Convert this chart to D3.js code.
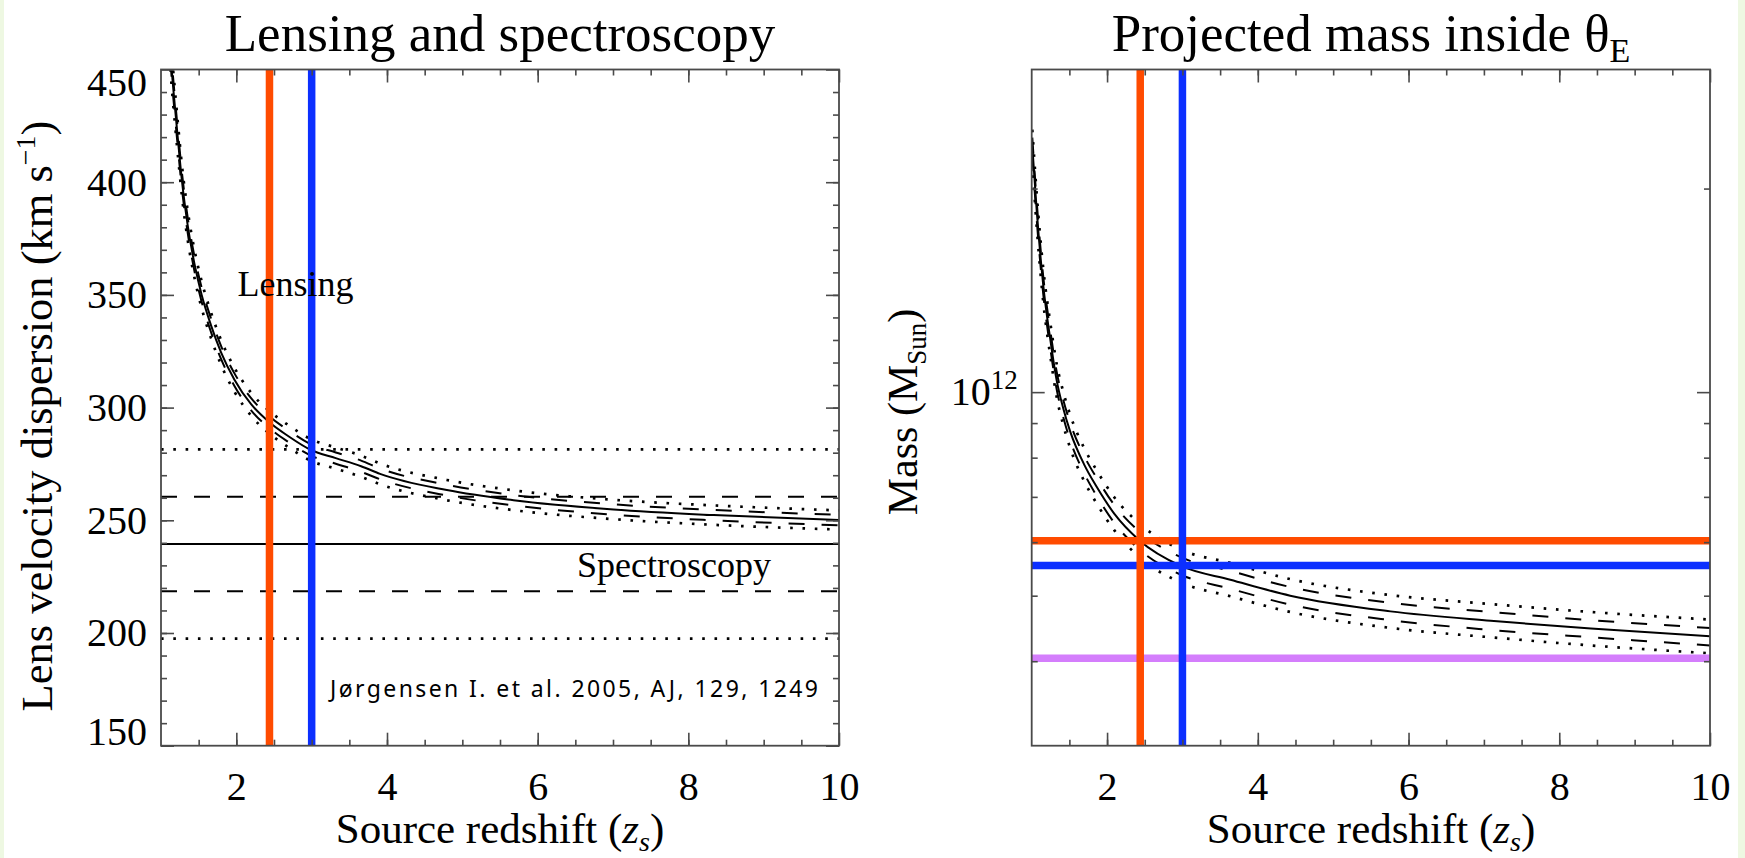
<!DOCTYPE html>
<html>
<head>
<meta charset="utf-8">
<script src="https://cdn.jsdelivr.net/npm/d3@7"></script>
<style>
  html, body { margin: 0; padding: 0; background: #eef8e2; }
  svg { display: block; }
</style>
</head>
<body>
<svg id="chart" width="1745" height="858"></svg>
<script>
// ---------- velocity-dispersion panel (km/s) ----------
const zSigma      = [1.125, 1.142, 1.186, 1.23, 1.28, 1.354, 1.443, 1.54, 1.664, 1.797, 1.973, 2.196, 2.438, 2.683, 2.99, 3.32, 3.656, 3.908, 4.794, 5.679, 7.007, 8.335, 10.0];
const sigmaLens   = [458, 450, 433, 417, 400, 381, 364, 350, 336.5, 324.5, 312.5, 301.5, 293.5, 287.5, 281.2, 277.6, 274.0, 270.6, 263.4, 258.9, 254.8, 252.3, 250.1];
const sigmaDashHi = [462.1, 454.1, 436.9, 420.8, 403.6, 384.4, 367.3, 353.2, 339.5, 327.4, 315.3, 304.2, 296.1, 290.1, 283.7, 280.1, 276.5, 273.0, 265.8, 261.2, 257.1, 254.6, 252.4];
const sigmaDashLo = [453.9, 446.0, 429.1, 413.2, 396.4, 377.6, 360.7, 346.9, 333.5, 321.6, 309.7, 298.8, 290.9, 284.9, 278.7, 275.1, 271.5, 268.2, 261.0, 256.6, 252.5, 250.0, 247.8];
const sigmaDotHi  = [465.8, 457.7, 440.4, 424.1, 406.8, 387.5, 370.2, 356.0, 342.2, 330.0, 317.8, 306.6, 298.5, 292.4, 286.0, 282.3, 278.7, 275.2, 267.9, 263.3, 259.1, 256.6, 254.4];
const sigmaDotLo  = [450.2, 442.4, 425.6, 409.9, 393.2, 374.5, 357.8, 344.1, 330.8, 319.0, 307.2, 296.4, 288.5, 282.6, 276.4, 272.9, 269.3, 266.0, 258.9, 254.5, 250.5, 248.0, 245.9];

// spectroscopic dispersion with 1- and 2-sigma levels
const specLevels = [281.5, 260.5, 239.5, 218.5, 197.5];
const specStyles = ["dot", "dash", "solid", "dash", "dot"];

// ---------- projected-mass panel (units of 1e11 M_sun) ----------
const zMass      = [1.008, 1.066, 1.153, 1.25, 1.332, 1.42, 1.51, 1.70, 1.86, 2.1, 2.43, 2.98, 3.636, 4.43, 5.76, 7.09, 8.42, 10.0];
const massLens   = [23.1, 18.6, 14.4, 11.9, 10.4, 9.45, 8.75, 7.8, 7.25, 6.6, 6.035, 5.534, 5.28, 5.0, 4.74, 4.59, 4.47, 4.354];
const massDashHi = [23.79, 19.16, 14.83, 12.26, 10.71, 9.73, 9.01, 8.03, 7.47, 6.80, 6.22, 5.70, 5.44, 5.15, 4.88, 4.73, 4.60, 4.48];
const massDashLo = [22.41, 18.04, 13.97, 11.54, 10.09, 9.17, 8.49, 7.57, 7.03, 6.40, 5.85, 5.37, 5.12, 4.85, 4.60, 4.45, 4.34, 4.22];
const massDotHi  = [24.44, 19.68, 15.24, 12.59, 11.00, 10.00, 9.26, 8.25, 7.67, 6.98, 6.39, 5.85, 5.59, 5.29, 5.01, 4.86, 4.73, 4.61];
const massDotLo  = [21.83, 17.58, 13.61, 11.25, 9.83, 8.93, 8.27, 7.37, 6.85, 6.24, 5.70, 5.23, 4.99, 4.73, 4.48, 4.34, 4.22, 4.11];

// marked source redshifts and the matching masses (last one: spectroscopic mass)
const zMarks      = [2.44, 3.0];
const massMarks   = [6.03, 5.54, 4.04];
const markColours = ["#ff4b00", "#0c2fff", "#d47efc"];

// ticks
const xTicks     = [2, 4, 6, 8, 10];
const xMinor     = d3.range(1.5, 10, 0.5);
const sigmaTicks = [150, 200, 250, 300, 350, 400, 450];
const sigmaMinor = d3.range(160, 450, 10);
const massTicks  = [10];
const massMinor  = [4, 5, 6, 7, 8, 9, 20];

const serif = '"Liberation Serif", "Times New Roman", Times, serif';
const ink = "#000";
const axisCol = "#4a4a4a";
const dashPat = "16,17";
const dotPat = "2.6,9.7";

const svg = d3.select("#chart");
svg.append("rect").attr("x", 4).attr("y", 0).attr("width", 1734).attr("height", 858).attr("fill", "#fff");

// scales
const xL = d3.scaleLinear().domain([1, 10]).range([161, 839]);
const yL = d3.scaleLinear().domain([150, 450]).range([745.7, 69.5]);
const xR = d3.scaleLinear().domain([1, 10]).range([1031.7, 1710]);
const yR = d3.scaleLog().domain([3, 30]).range([745.7, 69.5]);

function clip(id, x, y) {
  const [x0, x1] = x.range(), [yb, yt] = y.range();
  svg.append("clipPath").attr("id", id)
    .append("rect").attr("x", x0).attr("y", yt).attr("width", x1 - x0).attr("height", yb - yt);
  return svg.append("g").attr("clip-path", `url(#${id})`);
}

function styleAxis(sel) {
  sel.select(".domain").remove();
  sel.selectAll("line").attr("stroke", axisCol).attr("stroke-width", 1.6);
  sel.attr("font-family", serif).attr("font-size", 40);
  sel.selectAll("text").attr("fill", ink).attr("font-family", serif).attr("font-size", 40);
}

function axes(x, y, yMajor, yMinor, yFormat) {
  const [x0, x1] = x.range(), [yb, yt] = y.range();
  const g = svg.append("g");
  g.append("g").attr("transform", `translate(0,${yb})`)
    .call(d3.axisBottom(x).tickValues(xMinor).tickSize(-6).tickFormat("")).call(styleAxis);
  g.append("g").attr("transform", `translate(0,${yt})`)
    .call(d3.axisTop(x).tickValues(xMinor).tickSize(-6).tickFormat("")).call(styleAxis);
  g.append("g").attr("transform", `translate(0,${yb})`)
    .call(d3.axisBottom(x).tickValues(xTicks).tickSize(-13).tickPadding(26).tickFormat(d3.format("d"))).call(styleAxis);
  g.append("g").attr("transform", `translate(0,${yt})`)
    .call(d3.axisTop(x).tickValues(xTicks).tickSize(-13).tickFormat("")).call(styleAxis);

  g.append("g").attr("transform", `translate(${x0},0)`)
    .call(d3.axisLeft(y).tickValues(yMinor).tickSize(-6).tickFormat("")).call(styleAxis);
  g.append("g").attr("transform", `translate(${x1},0)`)
    .call(d3.axisRight(y).tickValues(yMinor).tickSize(-6).tickFormat("")).call(styleAxis);
  const yl = g.append("g").attr("transform", `translate(${x0},0)`)
    .call(d3.axisLeft(y).tickValues(yMajor).tickSize(-13).tickPadding(14).tickFormat(yFormat)).call(styleAxis);
  g.append("g").attr("transform", `translate(${x1},0)`)
    .call(d3.axisRight(y).tickValues(yMajor).tickSize(-13).tickFormat("")).call(styleAxis);

  g.append("rect").attr("x", x0).attr("y", yt).attr("width", x1 - x0).attr("height", yb - yt)
    .attr("fill", "none").attr("stroke", axisCol).attr("stroke-width", 1.8);
  return yl;
}

function curve(g, x, y, zs, vs, style) {
  const line = d3.line().x((d, i) => x(zs[i])).y(d => y(d)).curve(d3.curveMonotoneX);
  const p = g.append("path").attr("d", line(vs)).attr("fill", "none").attr("stroke", ink);
  if (style === "solid") p.attr("stroke-width", 2);
  if (style === "dash") p.attr("stroke-width", 2).attr("stroke-dasharray", dashPat);
  if (style === "dot") p.attr("stroke-width", 2.7).attr("stroke-dasharray", dotPat);
  return p;
}

// ================= left panel =================
const gL = clip("clipL", xL, yL);
specLevels.forEach((s, i) => {
  const p = gL.append("line").attr("x1", xL(1)).attr("x2", xL(10)).attr("y1", yL(s)).attr("y2", yL(s))
    .attr("stroke", ink);
  if (specStyles[i] === "solid") p.attr("stroke-width", 2);
  if (specStyles[i] === "dash") p.attr("stroke-width", 2).attr("stroke-dasharray", dashPat);
  if (specStyles[i] === "dot") p.attr("stroke-width", 2.7).attr("stroke-dasharray", dotPat);
});
curve(gL, xL, yL, zSigma, sigmaDotHi, "dot");
curve(gL, xL, yL, zSigma, sigmaDotLo, "dot");
curve(gL, xL, yL, zSigma, sigmaDashHi, "dash");
curve(gL, xL, yL, zSigma, sigmaDashLo, "dash");
curve(gL, xL, yL, zSigma, sigmaLens, "solid");

svg.append("text").attr("x", 237.5).attr("y", 296).attr("font-family", serif).attr("font-size", 36)
  .attr("fill", ink).text("Lensing");
svg.append("text").attr("x", 577).attr("y", 577).attr("font-family", serif).attr("font-size", 36)
  .attr("fill", ink).text("Spectroscopy");
svg.append("text").attr("x", 330).attr("y", 697)
  .attr("font-family", '"Noto Sans", "DejaVu Sans", sans-serif').attr("font-size", 23)
  .attr("textLength", 488).attr("lengthAdjust", "spacing")
  .attr("fill", ink).text("Jørgensen I. et al. 2005, AJ, 129, 1249");

zMarks.forEach((z, i) => {
  gL.append("line").attr("x1", xL(z)).attr("x2", xL(z)).attr("y1", yL(150)).attr("y2", yL(450))
    .attr("stroke", markColours[i]).attr("stroke-width", 7.5);
});

const ylL = axes(xL, yL, sigmaTicks, sigmaMinor, d3.format("d"));
// keep the end labels inside the axis span
ylL.selectAll(".tick text").filter(d => d === 450).attr("y", 13);
ylL.selectAll(".tick text").filter(d => d === 150).attr("y", -14);

// ================= right panel =================
const gR = clip("clipR", xR, yR);
curve(gR, xR, yR, zMass, massDotHi, "dot");
curve(gR, xR, yR, zMass, massDotLo, "dot");
curve(gR, xR, yR, zMass, massDashHi, "dash");
curve(gR, xR, yR, zMass, massDashLo, "dash");
curve(gR, xR, yR, zMass, massLens, "solid");

[2, 0, 1].forEach(i => {
  gR.append("line").attr("x1", xR(1)).attr("x2", xR(10)).attr("y1", yR(massMarks[i])).attr("y2", yR(massMarks[i]))
    .attr("stroke", markColours[i]).attr("stroke-width", 7.5);
});
zMarks.forEach((z, i) => {
  gR.append("line").attr("x1", xR(z)).attr("x2", xR(z)).attr("y1", yR(3)).attr("y2", yR(30))
    .attr("stroke", markColours[i]).attr("stroke-width", 7.5);
});

const ylR = axes(xR, yR, massTicks, massMinor, () => "");
ylR.selectAll(".tick text").each(function () {
  const t = d3.select(this).text(null);
  t.append("tspan").text("10");
  t.append("tspan").attr("dy", -16).attr("font-size", 27).text("12");
});

// ================= titles =================
function title(x, y, size) {
  return svg.append("text").attr("x", x).attr("y", y).attr("text-anchor", "middle")
    .attr("font-family", serif).attr("font-size", size).attr("fill", ink);
}
title(500, 51, 53).text("Lensing and spectroscopy");
const tR = title(1371, 51, 53);
tR.append("tspan").text("Projected mass inside θ");
tR.append("tspan").attr("dy", 11).attr("font-size", 34).text("E");

[[xL, 500], [xR, 1371]].forEach(([x, cx]) => {
  const t = title(cx, 843, 43);
  t.append("tspan").text("Source redshift (");
  t.append("tspan").attr("font-style", "italic").text("z");
  t.append("tspan").attr("font-style", "italic").attr("font-size", 28).attr("dy", 8).text("s");
  t.append("tspan").attr("dy", -8).text(")");
});

const yt1 = svg.append("text").attr("transform", "translate(52,416) rotate(-90)").attr("text-anchor", "middle")
  .attr("font-family", serif).attr("font-size", 44.5).attr("fill", ink);
yt1.append("tspan").text("Lens velocity dispersion (km s");
yt1.append("tspan").attr("dy", -17).attr("font-size", 28).text("−1");
yt1.append("tspan").attr("dy", 17).text(")");

const yt2 = svg.append("text").attr("transform", "translate(917,412) rotate(-90)").attr("text-anchor", "middle")
  .attr("font-family", serif).attr("font-size", 42).attr("fill", ink);
yt2.append("tspan").text("Mass (M");
yt2.append("tspan").attr("dy", 9).attr("font-size", 27).text("Sun");
yt2.append("tspan").attr("dy", -9).text(")");
</script>
</body>
</html>
